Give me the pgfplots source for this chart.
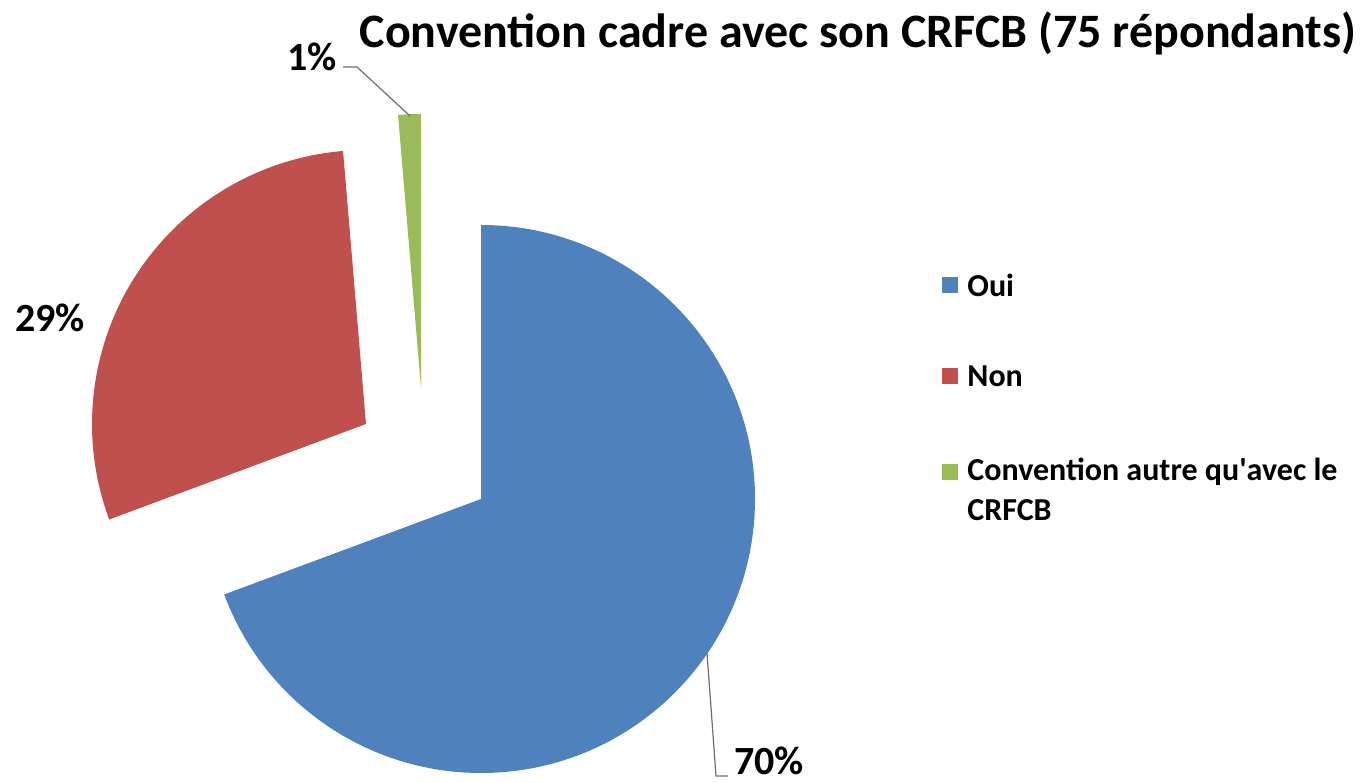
\documentclass[border=0pt]{standalone}
\usepackage{pgfplots}
\pgfplotsset{compat=1.18}
\usepackage{pgfplotstable}
\usepackage{fontspec}
\setmainfont{Carlito}
\definecolor{oui}{HTML}{4F81BD}
\definecolor{non}{HTML}{C0504D}
\definecolor{autre}{HTML}{9BBB59}
\definecolor{leader}{RGB}{110,110,110}

% counts (75 respondents) and apex of each exploded slice, in picture units
\pgfplotstableread{
cat   value ax  ay
Oui   52    481 283
Non   22    366 358
Autre 1     421 394
}\piedata

\pgfplotstablegetelem{0}{value}\of\piedata \let\vA\pgfplotsretval
\pgfplotstablegetelem{1}{value}\of\piedata \let\vB\pgfplotsretval
\pgfplotstablegetelem{2}{value}\of\piedata \let\vC\pgfplotsretval
\pgfplotstablegetelem{0}{ax}\of\piedata \let\xA\pgfplotsretval
\pgfplotstablegetelem{0}{ay}\of\piedata \let\yA\pgfplotsretval
\pgfplotstablegetelem{1}{ax}\of\piedata \let\xB\pgfplotsretval
\pgfplotstablegetelem{1}{ay}\of\piedata \let\yB\pgfplotsretval
\pgfplotstablegetelem{2}{ax}\of\piedata \let\xC\pgfplotsretval
\pgfplotstablegetelem{2}{ay}\of\piedata \let\yC\pgfplotsretval
\pgfmathsetmacro{\tot}{\vA+\vB+\vC}
\pgfmathsetmacro{\aA}{90-\vA/\tot*360}
\pgfmathsetmacro{\aB}{\aA-\vB/\tot*360}
\pgfmathsetmacro{\aC}{\aB-\vC/\tot*360}
\def\R{137pt}

\begin{document}
\begin{tikzpicture}
\begin{axis}[
    scale only axis, width=685pt, height=391pt,
    xmin=0, xmax=1370, ymin=0, ymax=782,
    axis lines=none, ticks=none, clip=false
]
\fill[oui] (axis cs:\xA,\yA) -- ++(90:\R) arc[start angle=90, end angle=\aA, radius=\R] -- cycle;
\fill[non] (axis cs:\xB,\yB) -- ++(\aA:\R) arc[start angle=\aA, end angle=\aB, radius=\R] -- cycle;
\fill[autre] (axis cs:\xC,\yC) -- ++(\aB:\R) arc[start angle=\aB, end angle=\aC, radius=\R] -- cycle;

\draw[leader, line width=0.6pt] (axis cs:343,715) -- (axis cs:357,715) -- (axis cs:410,666);
\draw[leader, line width=0.6pt] (axis cs:707,129) -- (axis cs:716,6) -- (axis cs:728,6);

\begin{scope}[every node/.style={inner sep=0pt, font=\bfseries\fontsize{20}{22}\selectfont}]
\node at (axis cs:312,725) {1\%};
\node at (axis cs:50,464) {29\%};
\node at (axis cs:769,21) {70\%};
\end{scope}

\node[inner sep=0pt, font=\bfseries\fontsize{24}{27}\selectfont] at (axis cs:858,749) {Convention cadre avec son CRFCB (75 répondants)};

\fill[oui] (axis cs:942,489) rectangle (axis cs:958,505);
\fill[non] (axis cs:942,398) rectangle (axis cs:958,414);
\fill[autre] (axis cs:942,302) rectangle (axis cs:958,318);
\begin{scope}[every node/.style={anchor=west, inner sep=0pt, font=\bfseries\fontsize{16}{18}\selectfont}]
\node at (axis cs:967,497) {Oui};
\node at (axis cs:967,406) {Non};
\node at (axis cs:967,310) {Convention autre qu\textquotesingle avec le};
\node at (axis cs:967,272) {CRFCB};
\end{scope}
\end{axis}
\pgfresetboundingbox
\useasboundingbox (0,0) rectangle (685pt,391pt);
\end{tikzpicture}
\end{document}
